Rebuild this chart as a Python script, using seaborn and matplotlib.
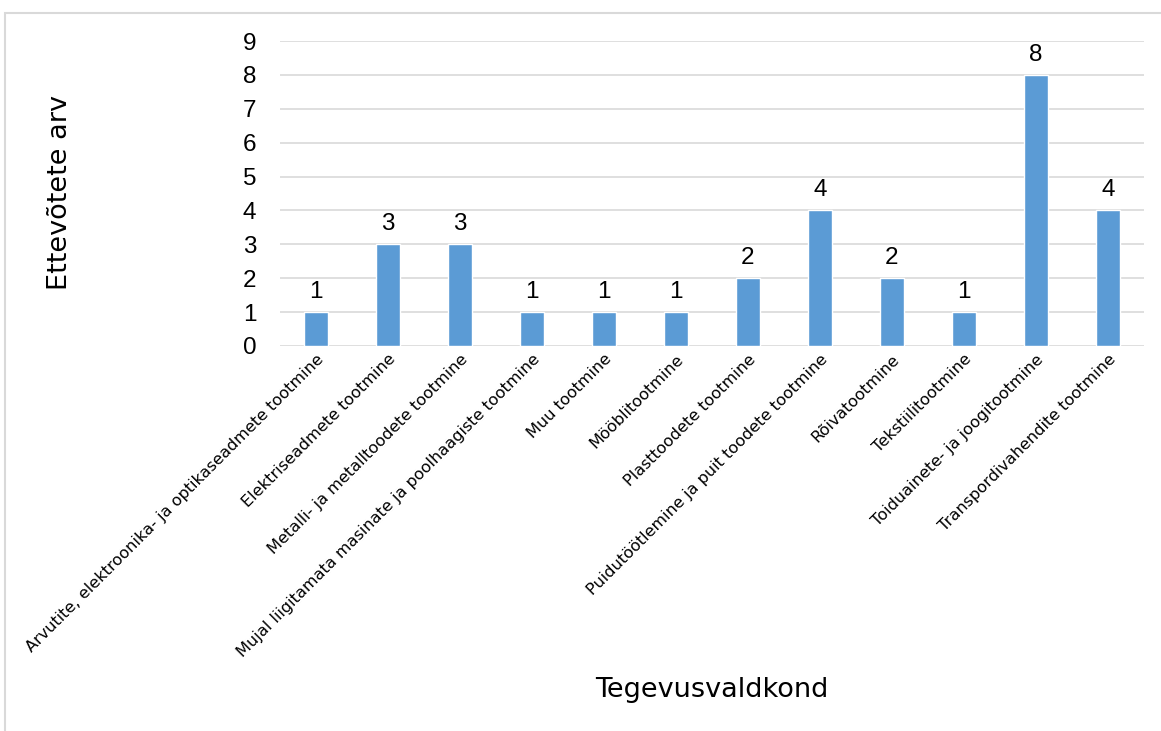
import matplotlib
matplotlib.use("Agg")
import matplotlib.pyplot as plt
import seaborn as sns
import pandas as pd
from matplotlib.patches import Rectangle

categories = [
    "Arvutite, elektroonika- ja optikaseadmete tootmine",
    "Elektriseadmete tootmine",
    "Metalli- ja metalltoodete tootmine",
    "Mujal liigitamata masinate ja poolhaagiste tootmine",
    "Muu tootmine",
    "Mööblitootmine",
    "Plasttoodete tootmine",
    "Puidutöötlemine ja puit toodete tootmine",
    "Rõivatootmine",
    "Tekstiilitootmine",
    "Toiduainete- ja joogitootmine",
    "Transpordivahendite tootmine",
]
counts = [1, 3, 3, 1, 1, 1, 2, 4, 2, 1, 8, 4]
y_ticks = [0, 1, 2, 3, 4, 5, 6, 7, 8, 9]

df = pd.DataFrame({"Tegevusvaldkond": categories, "Ettevõtete arv": counts})

sns.set_theme(style="white")
plt.rcParams["font.family"] = ["DejaVu Sans"]
plt.rcParams["text.color"] = "black"

NUM_FONT = ["Liberation Sans", "DejaVu Sans"]

fig = plt.figure(figsize=(11.61, 7.31), dpi=100)
W, H = 1161, 731
ax = fig.add_axes([280 / W, 1 - 346 / H, (1144 - 280) / W, (346 - 41) / H])

sns.barplot(data=df, x="Tegevusvaldkond", y="Ettevõtete arv", color="#5B9BD5",
            saturation=1, width=0.32, ax=ax, zorder=3)

ax.set_ylim(0, 9)
ax.set_xlim(-0.5, len(categories) - 0.5)
ax.set_yticks(y_ticks)
ax.set_yticklabels([str(t) for t in y_ticks], fontsize=17.5, family=NUM_FONT,
                   color="black")
ax.tick_params(axis="y", length=0, pad=17)
ax.tick_params(axis="x", length=0, pad=4)
ax.yaxis.grid(True, color="#D9D9D9", linewidth=1.2, zorder=0)
ax.set_axisbelow(True)
for s in ["top", "right", "left", "bottom"]:
    ax.spines[s].set_visible(False)

ax.set_xticks(range(len(categories)))
ax.set_xticklabels(categories, rotation=45, ha="right", va="top",
                   rotation_mode="anchor", fontsize=11.6, color="black")

for i, v in enumerate(counts):
    ax.text(i, v + 0.27, str(v), ha="center", va="bottom", fontsize=17.5,
            family=NUM_FONT, color="black")

ax.set_xlabel("")
ax.set_ylabel("")
fig.text(712 / W, 1 - 690 / H, "Tegevusvaldkond", ha="center", va="center",
         fontsize=19.5, color="black")
fig.text(60 / W, 1 - 192 / H, "Ettevõtete arv", ha="center", va="center",
         rotation=90, fontsize=19.5, color="black")

fig.patches.append(Rectangle((5 / W, -0.05), 1.2, 1 - 13 / H + 0.05,
                             transform=fig.transFigure, fill=False,
                             edgecolor="#D9D9D9", linewidth=1.5))

fig.savefig("out.png", dpi=100, facecolor="white")
